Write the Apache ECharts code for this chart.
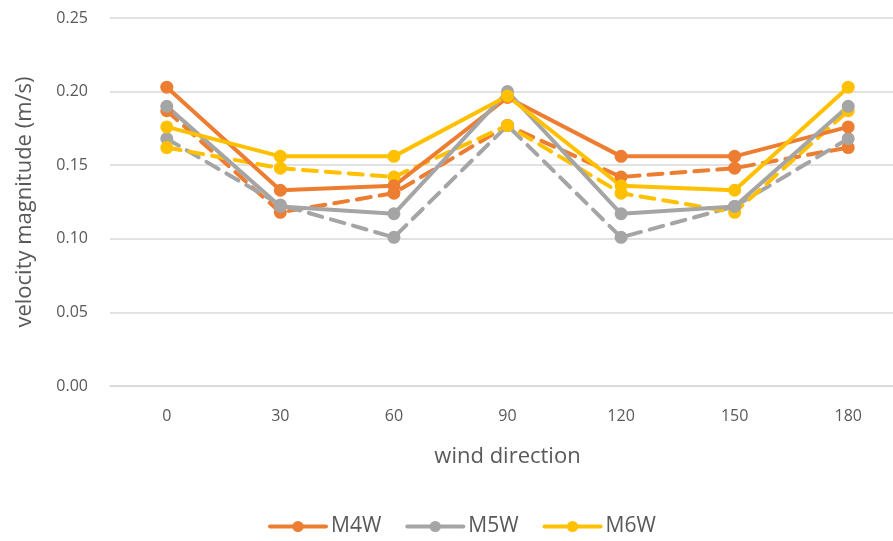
<!DOCTYPE html>
<html>
<head>
<meta charset="utf-8">
<script src="https://cdn.jsdelivr.net/npm/echarts@6/dist/echarts.min.js"></script>
<style>
  html, body { margin: 0; padding: 0; background: #fff; }
  #chart { width: 893px; height: 541px; }
</style>
</head>
<body>
<div id="chart"></div>
<script>
  // wind direction categories
  var directions = ['0', '30', '60', '90', '120', '150', '180'];
  var yTicks = [0, 0.05, 0.10, 0.15, 0.20, 0.25];

  // solid lines (in legend)
  var m4w = [0.203, 0.133, 0.136, 0.196, 0.156, 0.156, 0.176];
  var m5w = [0.190, 0.122, 0.117, 0.200, 0.117, 0.122, 0.190];
  var m6w = [0.176, 0.156, 0.156, 0.197, 0.136, 0.133, 0.203];
  // dashed lines (not in legend)
  var m4wDash = [0.187, 0.118, 0.131, 0.177, 0.142, 0.148, 0.162];
  var m5wDash = [0.168, 0.123, 0.101, 0.177, 0.101, 0.122, 0.168];
  var m6wDash = [0.162, 0.148, 0.142, 0.177, 0.131, 0.118, 0.187];

  var orange = '#ED7D31', gray = '#A5A5A5', yellow = '#FFC000';
  var font = 'Open Sans, DejaVu Sans, sans-serif';

  function line(name, data, color, dashed) {
    return {
      name: name,
      type: 'line',
      data: data,
      symbol: 'circle',
      symbolSize: 13,
      itemStyle: { color: color },
      lineStyle: { color: color, width: 4, type: dashed ? [14, 9] : 'solid', cap: 'round' },
      animation: false
    };
  }

  var chart = echarts.init(document.getElementById('chart'));
  chart.setOption({
    textStyle: { fontFamily: font },
    grid: { left: 110, top: 18, bottom: 155, width: 795, outerBoundsMode: 'none' },
    legend: {
      data: ['M4W', 'M5W', 'M6W'],
      top: 511,
      left: 263,
      itemWidth: 56,
      itemHeight: 14,
      itemGap: 24,
      lineStyle: { width: 4 },
      textStyle: { fontSize: 21, color: '#595959', fontFamily: font }
    },
    xAxis: {
      type: 'category',
      data: directions,
      boundaryGap: true,
      name: 'wind direction',
      nameLocation: 'middle',
      nameGap: 60,
      nameTextStyle: { fontSize: 22, color: '#595959' },
      axisLine: { lineStyle: { color: '#D9D9D9', width: 1.5 } },
      axisTick: { show: false },
      axisLabel: { fontSize: 16, color: '#595959', margin: 22 }
    },
    yAxis: {
      type: 'value',
      min: yTicks[0],
      max: yTicks[yTicks.length - 1],
      interval: 0.05,
      name: 'velocity magnitude (m/s)',
      nameLocation: 'middle',
      nameGap: 74,
      nameTextStyle: { fontSize: 22, color: '#595959' },
      axisLine: { show: false },
      axisTick: { show: false },
      splitLine: { lineStyle: { color: '#D9D9D9', width: 1.5 } },
      axisLabel: {
        fontSize: 16, color: '#595959', margin: 22,
        formatter: function (v) { return v.toFixed(2); }
      }
    },
    series: [
      line('M4W dash', m4wDash, orange, true),
      line('M5W dash', m5wDash, gray, true),
      line('M6W dash', m6wDash, yellow, true),
      line('M4W', m4w, orange, false),
      line('M5W', m5w, gray, false),
      line('M6W', m6w, yellow, false)
    ]
  });
</script>
</body>
</html>
